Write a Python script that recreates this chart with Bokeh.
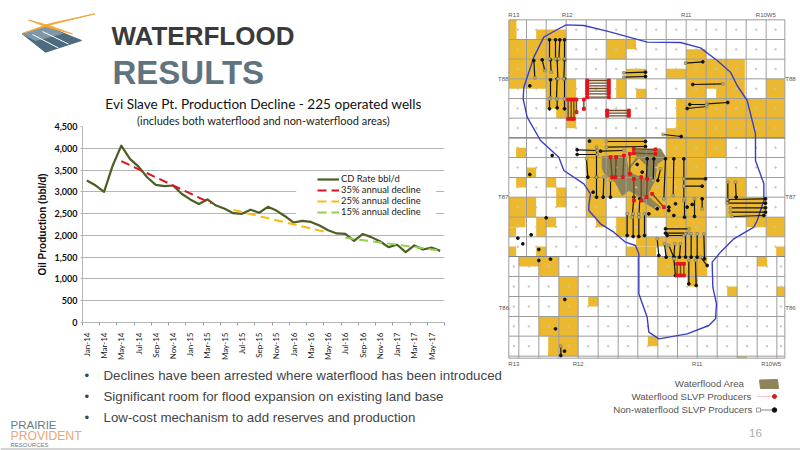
from bokeh.embed import file_html
from bokeh.resources import INLINE
from bokeh.plotting import figure
from bokeh.layouts import column, row
from bokeh.models import (Label, FixedTicker, Range1d, Legend, LegendItem, BoxAnnotation,
                          NumeralTickFormatter, Title)
import math

# ---------------- chart data
MONTHS = ["Jan-14","Feb-14","Mar-14","Apr-14","May-14","Jun-14","Jul-14","Aug-14","Sep-14","Oct-14","Nov-14","Dec-14",
          "Jan-15","Feb-15","Mar-15","Apr-15","May-15","Jun-15","Jul-15","Aug-15","Sep-15","Oct-15","Nov-15","Dec-15",
          "Jan-16","Feb-16","Mar-16","Apr-16","May-16","Jun-16","Jul-16","Aug-16","Sep-16","Oct-16","Nov-16","Dec-16",
          "Jan-17","Feb-17","Mar-17","Apr-17","May-17","Jun-17"]
CD_RATE = [3260,3150,3000,3600,4060,3755,3580,3335,3160,3130,3145,2955,2825,2720,2825,2685,2610,2510,2495,2590,2520,
           2655,2570,2440,2295,2335,2310,2225,2120,2045,2035,1875,2030,1960,1865,1730,1785,1615,1770,1675,1720,1645]
D35_MONTH = [4, 14.4];   D35_RATE = [3705, 2740]
D25_MONTH = [17, 27.8];  D25_RATE = [2585, 2075]
D15_MONTH = [30, 41];    D15_RATE = [1945, 1653]
Y_TICKS = [0,500,1000,1500,2000,2500,3000,3500,4000,4500]

# ---------------- map data (units: 3 per screen px)
GRID_X_TOP = [25,78,137,197,257,317,377,437,497,557,617,677,737,797,853]
GRID_X_BOTTOM = [25,55,115,175,233,293,353,412,472,531,590,650,710,770,829,853]
GRID_Y_TOP = [58,117,176,235,294,353,412,471,531,590,650,709,768]
GRID_Y_BOTTOM = [768,828,888,948,1007,1067,1073]
YELLOW = [(25,48,58,117),(107,197,87,117),(25,197,117,176),(318,377,117,176),(377,407,117,146),(557,617,146,176),
 (25,197,176,235),(377,437,205,235),(497,557,205,235),(557,733,176,235),(25,137,235,265),(137,197,235,294),(197,227,235,294),
 (347,377,235,294),(407,437,265,294),(557,617,235,294),(647,733,235,294),(617,647,235,265),(797,853,235,294),
 (137,167,294,325),(167,227,294,353),(527,853,294,353),(197,227,353,383),(527,853,353,412),(497,527,383,412),
 (257,437,412,471),(497,677,412,471),(47,77,442,471),(257,617,471,531),(77,107,501,531),(47,77,531,561),(137,167,531,561),
 (167,197,561,620),(257,617,531,590),(677,737,531,590),(25,107,590,650),(257,317,590,650),(377,617,590,650),(677,797,590,650),
 (25,75,650,680),(25,47,680,709),(107,137,650,709),(137,167,650,680),(287,317,650,680),(347,377,650,709),(377,437,650,709),
 (497,617,650,709),(737,797,650,680),(797,853,650,709),(25,47,738,768),(107,137,738,768),(377,437,738,768),(407,497,709,738),
 (437,467,738,768),(497,617,709,768),(827,853,738,768),(55,115,768,798),(115,175,768,828),(472,620,768,828),(770,800,768,798),
 (175,233,828,1067),(560,590,828,858),(680,710,858,888),(829,853,858,888),(263,293,888,918),(115,175,948,1007),(143,175,1007,1067),
 (442,472,1007,1037),(710,740,1067,1073)]
FLOOD_X = [305,375,383,410,395,480,496,470,462,445,445,480,470,430,405,385,365,345,312,305]
FLOOD_Y = [468,465,505,468,450,445,472,490,540,575,590,620,628,605,580,570,585,545,520,500]
BOUNDARY_X = [197,250,320,440,540,600,650,690,710,740,765,765,790,790,770,760,700,660,635,637,648,645,625,560,475,445,440,
              415,415,405,375,340,300,265,265,270,250,190,175,120,80,68,70,100,130,165,197]
BOUNDARY_Y = [73,75,92,125,126,142,180,215,255,300,400,480,550,600,660,680,715,755,785,860,910,955,975,1000,1015,995,950,
              880,760,735,725,695,670,630,615,580,550,510,470,420,350,295,260,170,110,90,73]
WELLS_BLACK = [(147,118,147,175),(165,118,165,175),(178,118,175,175),(192,118,192,175),(100,180,103,232),(125,178,133,210),
 (150,178,152,215),(170,178,172,235),(192,178,190,235),(150,238,150,292),(170,235,168,295),(192,235,192,295),(147,325,147,295),
 (170,322,170,295),(192,325,192,295),(435,215,370,217),(435,228,370,230),(607,184,555,188),(577,252,667,250),(682,306,620,310),
 (568,312,618,312),(560,324,618,318),(542,408,488,402),(435,423,318,423),(435,438,318,440),(230,448,290,450),(230,462,290,462),
 (300,452,370,450),(262,530,258,475),(288,530,288,440),(288,590,288,530),(308,590,310,530),(330,590,330,540),(440,475,438,540),
 (460,475,458,540),(472,540,480,505),(495,475,490,595),(520,475,518,585),(550,475,550,600),(615,535,550,535),(605,557,550,557),
 (552,650,552,595),(582,648,582,595),(605,595,605,625),(400,590,395,650),(418,595,415,650),(380,705,380,640),(398,708,398,640),
 (415,708,415,640),(432,705,432,640),(495,685,565,685),(495,698,565,698),(500,705,550,705),(475,765,470,715),(497,770,492,730),
 (520,770,505,735),(520,770,523,730),(537,770,540,730),(555,770,555,700),(572,770,572,700),(590,770,590,700),(612,775,610,700),
 (525,825,520,775),(565,850,565,780),(587,855,585,780),(620,795,600,770),(682,600,682,545),(707,590,705,545),(795,595,680,597),
 (795,608,680,608),(795,622,690,622),(795,635,690,635),(790,645,695,648),(181,1065,181,1037)]
WELLS_FLOOD = [(260,240,325,240),(260,248,325,248),(260,256,325,256),(260,264,325,264),(260,272,325,272),(260,280,325,280),
 (260,290,325,290),(203,297,203,355),(212,297,212,355),(220,297,220,355),(228,297,228,335),(250,297,250,325),(320,330,385,330),
 (320,338,385,338),(320,346,385,346),(330,470,335,530),(347,470,345,530),(370,465,367,530),(388,460,388,520),(400,445,465,447),
 (400,458,465,460),(400,535,400,600),(422,530,422,600),(440,535,438,590),(455,580,490,620),(530,790,530,825),(540,790,540,825),
 (550,790,550,825)]
WELL_DOTS_X = [193,165,115,150,137,52,67,92,115,88,155,88,267,278,192,410,425,505,525,445,470,505,575,560,520]
WELL_DOTS_Y = [897,985,780,776,652,713,730,703,747,256,465,522,422,575,1052,492,515,620,610,640,625,630,612,620,645]
RANGE_LABELS = [("R13",40,44),("R12",200,44),("R11",557,44),("R10W5",796,44),("R13",40,1090),("R12",233,1090),("R11",590,1090),("R10W5",812,1090),
                ("T88",8,235),("T87",8,590),("T86",10,921),("T88",870,235),("T87",870,590),("T86",870,921)]
BULLETS = ["Declines have been arrested where waterflood has been introduced",
           "Significant room for flood expansion on existing land base",
           "Low-cost mechanism to add reserves and production"]

def blank(w, h, xr, yr):
    p = figure(width=w, height=h, x_range=Range1d(*xr), y_range=Range1d(*yr), output_backend="svg",
               toolbar_location=None, min_border=0)
    p.min_border_left = p.min_border_right = p.min_border_top = p.min_border_bottom = 0
    p.xaxis.visible = False; p.yaxis.visible = False; p.grid.visible = False
    p.outline_line_color = None
    return p

def txt(p, x, y, s, size, color="#444444", font="Liberation Sans", style="normal", align="left"):
    p.add_layout(Label(x=x, y=y, text=s, text_font=font, text_font_size=f"{size}px", text_color=color,
                       text_font_style=style, text_align=align, text_baseline="middle"))

# ---------------- header
LOGO_QUAD_X = [21.7,46.7,81,45]; LOGO_QUAD_Y = [33.3,26,40,51.7]
head = blank(496, 92, (0,496), (92,0))
head.patch(LOGO_QUAD_X, LOGO_QUAD_Y, color="#4d6a7e")
head.patch([21.7,46.7,62,35], [33.3,26,33,40], color="#7f97a6")
head.multi_line([[32,58],[42,68]], [[34,47.5],[31,43.5]], line_color="white", line_width=1)
head.patch([28,50,72,48],[19.5,25.5,33.5,27], color="#f2a93b")
head.patch([94.5,53,23,50],[13.3,23.5,32.5,23], color="#f2a93b")
txt(head, 111, 35.5, "WATERFLOOD", 26, "#3a3a3a", style="bold")
txt(head, 112, 72, "RESULTS", 33, "#5f7480", style="bold")

# ---------------- chart
x_center = [i + 0.5 for i in range(len(MONTHS))]
p = figure(width=496, height=276, x_range=Range1d(0, 42), y_range=Range1d(0, 4500), output_backend="svg",
           toolbar_location=None, min_border_left=82, min_border_right=52, min_border_top=34, min_border_bottom=46)
p.outline_line_color = None
p.title = Title(text="Evi Slave Pt. Production Decline - 225 operated wells", align="center", text_font="Lato",
                text_font_size="13.6px", text_font_style="normal", text_color="#111111", standoff=0)
p.add_layout(Title(text="(includes both waterflood and non-waterflood areas)", align="center", text_font="Lato",
                   text_font_size="11px", text_font_style="normal", text_color="#222222", standoff=0), "above")
p.xgrid.visible = False
p.ygrid.grid_line_color = "#b5b5b5"; p.ygrid.grid_line_width = 1.2
p.ygrid.ticker = FixedTicker(ticks=Y_TICKS)
p.yaxis.ticker = FixedTicker(ticks=Y_TICKS)
p.yaxis.formatter = NumeralTickFormatter(format="0,0")
p.yaxis.major_label_text_font = "Lato"; p.yaxis.major_label_text_font_style = "bold"
p.yaxis.major_label_text_font_size = "9px"; p.yaxis.major_label_text_color = "#111111"
p.yaxis.axis_line_color = "#b5b5b5"; p.yaxis.major_tick_line_color = "#b5b5b5"
p.yaxis.major_tick_in = 0; p.yaxis.major_tick_out = 2; p.yaxis.minor_tick_line_color = None
p.yaxis.axis_label = "Oil Production (bbl/d)"; p.yaxis.axis_label_text_font = "Liberation Sans"
p.yaxis.axis_label_text_font_style = "bold"; p.yaxis.axis_label_text_font_size = "10px"
p.yaxis.axis_label_text_color = "#111111"; p.yaxis.axis_label_standoff = 4
p.yaxis.major_label_standoff = 3
tick_pos = x_center[::2]
p.xaxis.ticker = FixedTicker(ticks=tick_pos, minor_ticks=list(range(0, 43, 2)))
p.xaxis.major_label_overrides = {x_center[i]: MONTHS[i] for i in range(0, len(MONTHS), 2)}
p.xaxis.major_label_orientation = math.pi / 2
p.xaxis.major_label_text_font = "Lato"; p.xaxis.major_label_text_font_size = "8px"
p.xaxis.major_label_text_color = "#222222"; p.xaxis.major_label_standoff = 4
p.xaxis.major_tick_line_color = None
p.xaxis.minor_tick_line_color = "#999999"; p.xaxis.minor_tick_in = 0; p.xaxis.minor_tick_out = 3
p.xaxis.axis_line_color = "#b5b5b5"
p.add_layout(BoxAnnotation(left=24.8, right=41, bottom=2400, top=3400, fill_color="white", fill_alpha=1, line_color=None, level="underlay"))
r_cd = p.line(x_center, CD_RATE, line_color="#4e5d23", line_width=2.2, line_join="round")
r35 = p.line([m_ + 0.5 for m_ in D35_MONTH], D35_RATE, line_color="#e0121f", line_width=2, line_dash=[9, 5])
r25 = p.line([m_ + 0.5 for m_ in D25_MONTH], D25_RATE, line_color="#fdb813", line_width=2, line_dash=[9, 5])
r15 = p.line([m_ + 0.5 for m_ in D15_MONTH], D15_RATE, line_color="#92d050", line_width=2, line_dash=[9, 5])
lg = Legend(items=[LegendItem(label="CD Rate bbl/d", renderers=[r_cd]), LegendItem(label="35% annual decline", renderers=[r35]),
                   LegendItem(label="25% annual decline", renderers=[r25]), LegendItem(label="15% annual decline", renderers=[r15])],
            location=(235, 105), background_fill_alpha=0, border_line_color=None, padding=0, margin=0, spacing=0,
            glyph_width=22, glyph_height=10, label_height=10, label_standoff=2, label_text_font="Lato",
            label_text_font_size="9.4px", label_text_color="#222222")
p.add_layout(lg, "center")

# ---------------- map
m = blank(304, 368, (-12, 900), (1104, 0))
m.quad(left=[r[0] for r in YELLOW], right=[r[1] for r in YELLOW], top=[r[2] for r in YELLOW], bottom=[r[3] for r in YELLOW],
       fill_color="#ecb92e", line_color=None)
m.patch(FLOOD_X, FLOOD_Y, color="#8f8458")
m.patch([385,415,440,430,400], [510,475,500,530,520], color="#ecb92e")
grid_xs = [[x, x] for x in GRID_X_TOP] + [[x, x] for x in GRID_X_BOTTOM] + [[25, 853] for _ in GRID_Y_TOP] + [[25, 853] for _ in GRID_Y_BOTTOM]
grid_ys = [[58, 768] for _ in GRID_X_TOP] + [[768, 1073] for _ in GRID_X_BOTTOM] + [[y, y] for y in GRID_Y_TOP] + [[y, y] for y in GRID_Y_BOTTOM]
m.multi_line(grid_xs, grid_ys, line_color="#9c9c9c", line_width=1)
m.multi_line([[25, 853], [25, 853]], [[412, 412], [768, 768]], line_color="#808080", line_width=1.2)
m.scatter([(a + b) / 2 for a, b in zip(GRID_X_TOP, GRID_X_TOP[1:]) for _ in GRID_Y_TOP[:-1]],
          [(a + b) / 2 for _ in GRID_X_TOP[:-1] for a, b in zip(GRID_Y_TOP, GRID_Y_TOP[1:])], size=1.5, color="#c4c4c4")
m.scatter([(a + b) / 2 for a, b in zip(GRID_X_BOTTOM, GRID_X_BOTTOM[1:]) for _ in GRID_Y_BOTTOM[:-2]],
          [(a + b) / 2 for _ in GRID_X_BOTTOM[:-1] for a, b in zip(GRID_Y_BOTTOM, GRID_Y_BOTTOM[1:-1])], size=1.5, color="#c4c4c4")
m.line(BOUNDARY_X, BOUNDARY_Y, line_color="#3b3fc4", line_width=1.4)
m.multi_line([[w[0], w[2]] for w in WELLS_BLACK], [[w[1], w[3]] for w in WELLS_BLACK], line_color="#111111", line_width=1.2)
m.scatter([w[0] for w in WELLS_BLACK], [w[1] for w in WELLS_BLACK], size=2.8, color="#111111")
m.scatter([w[2] for w in WELLS_BLACK], [w[3] for w in WELLS_BLACK], marker="square", size=2.6, fill_color="#c9b45a", line_color="#777777", line_width=0.6)
m.multi_line([[w[0], w[2]] for w in WELLS_FLOOD], [[w[1], w[3]] for w in WELLS_FLOOD], line_color="#6e4a1e", line_width=1.4)
m.scatter([w[0] for w in WELLS_FLOOD] + [w[2] for w in WELLS_FLOOD], [w[1] for w in WELLS_FLOOD] + [w[3] for w in WELLS_FLOOD],
          marker="square", size=2.8, color="#e5141c")
m.scatter(WELL_DOTS_X, WELL_DOTS_Y, size=2.8, color="#111111")
for s, x, y in RANGE_LABELS:
    txt(m, x, y, s, 6, "#555555", align="center")

# ---------------- footer
f = blank(800, 82, (0, 800), (450, 368))
f.line([0, 800], [448.5, 448.5], line_color="#aaaaaa", line_width=1)
for y_pos, b in zip([375, 395.5, 417], BULLETS):
    txt(f, 84, y_pos, "\u2022", 13.3, "#444444")
    txt(f, 103, y_pos, b, 13.3, "#444444")
txt(f, 10, 424, "PRAIRIE", 11.5, "#6b7b84")
txt(f, 10, 435, "PROVIDENT", 12.2, "#e8a777")
txt(f, 10, 444, "RESOURCES", 6, "#6b7b84")
txt(f, 744, 383, "Waterflood Area", 9.7, "#555555", align="right")
txt(f, 751, 395.5, "Waterflood SLVP Producers", 9.7, "#555555", align="right")
txt(f, 752, 409, "Non-waterflood SLVP Producers", 9.7, "#555555", align="right")
f.patch([759, 777, 778, 760], [379.5, 379, 388, 388], color="#8f8458")
f.line([757, 774], [396, 396], line_color="#f5b7b1", line_width=0.8)
f.scatter([774], [396], size=4, color="#e5141c")
f.line([757, 774], [409.5, 409.5], line_color="#666666", line_width=0.8)
f.scatter([758], [409.5], marker="square", size=4, fill_color="white", line_color="#999999")
f.scatter([774], [409.5], size=4.5, color="#111111")
txt(f, 755, 432, "16", 11.5, "#aaaaaa", align="center")

page = column(row(column(row(head), row(p), spacing=0), m, spacing=0), f, spacing=0)
open("out.html", "w").write(file_html(page, INLINE))
